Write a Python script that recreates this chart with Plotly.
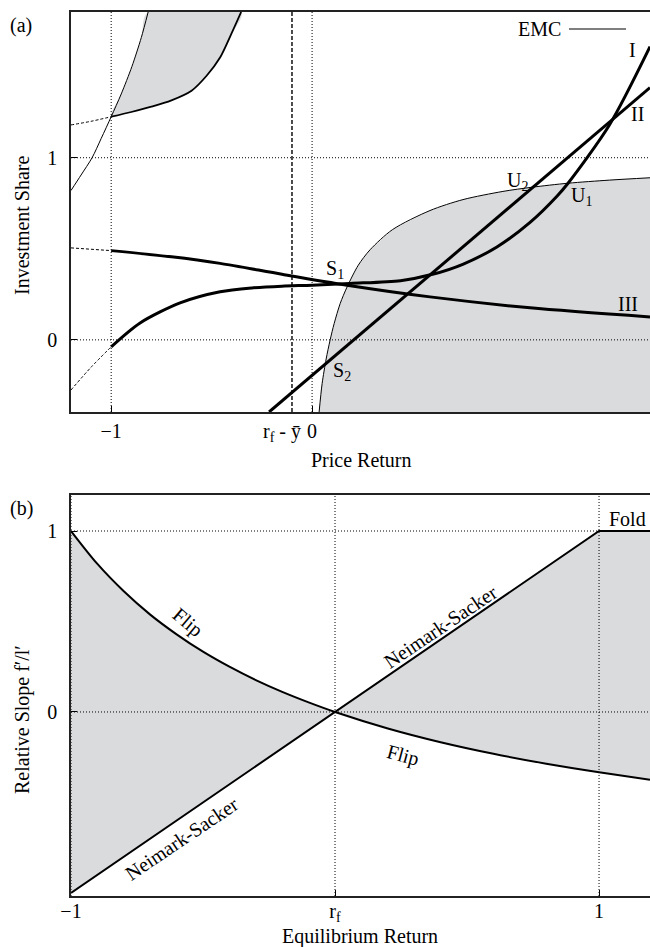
import plotly.graph_objects as go

# ---------------- Panel (a) data ----------------
xa_range = [-1.2, 1.682]
ya_range = [-0.396, 1.80]
xa_ticks = [-1, 0]
xa_ticktext = ["\u22121", "0"]
ya_ticks = [0, 1]
ya_ticktext = ["0", "1"]
rf_minus_ybar = -0.1

# thin boundary (left region)
emc_left_x = [-1.2, -1.15, -1.095, -1.05, -1.0, -0.95, -0.897, -0.85, -0.816]
emc_left_y = [0.82, 0.905, 1.0, 1.105, 1.225, 1.35, 1.50, 1.66, 1.80]
# upper boundary of left region (dashed part then solid)
upper_dash_x = [-1.2, -1.1, -1.0]
upper_dash_y = [1.18, 1.20, 1.225]
upper_x = [-1.0, -0.9, -0.8, -0.7, -0.6, -0.525, -0.458, -0.408, -0.353]
upper_y = [1.225, 1.251, 1.28, 1.315, 1.368, 1.45, 1.55, 1.665, 1.80]
# thin boundary (right region)
emc_right_x = [0.035, 0.05, 0.07, 0.09, 0.11, 0.14, 0.174, 0.23, 0.289, 0.40, 0.587, 0.751, 0.95, 1.095, 1.274, 1.48, 1.682]
emc_right_y = [-0.396, -0.24, -0.105, 0.0, 0.09, 0.2, 0.29, 0.41, 0.495, 0.605, 0.71, 0.77, 0.815, 0.838, 0.86, 0.877, 0.89]
# curve I
c1_dash_x = [-1.2, -1.1, -1.0]
c1_dash_y = [-0.275, -0.15, -0.038]
c1_x = [-1.0, -0.856, -0.657, -0.458, -0.3, -0.15, 0.0, 0.19, 0.44, 0.6, 0.75, 0.92, 1.085, 1.22, 1.274, 1.48, 1.682]
c1_y = [-0.038, 0.093, 0.203, 0.264, 0.285, 0.295, 0.30, 0.31, 0.325, 0.36, 0.415, 0.51, 0.645, 0.79, 0.86, 1.18, 1.61]
# line II
c2_x = [-0.214, 1.682]
c2_y = [-0.396, 1.385]
# curve III
c3_dash_x = [-1.2, -1.0]
c3_dash_y = [0.505, 0.49]
c3_x = [-1.0, -0.7, -0.458, -0.15, 0.174, 0.587, 1.085, 1.682]
c3_y = [0.49, 0.456, 0.42, 0.36, 0.30, 0.236, 0.176, 0.126]

# ---------------- Panel (b) data ----------------
xb_range = [-1.0, 1.193]
yb_range = [-1.017, 1.199]
xb_ticks = [-1, 0, 1]
xb_ticktext = ["\u22121", "r<sub>f</sub>", "1"]
yb_ticks = [0, 1]
yb_ticktext = ["0", "1"]

flip_x = [-1.0, -0.9, -0.8, -0.7, -0.6, -0.5, -0.4, -0.3, -0.2, -0.1, 0.0, 0.2, 0.4, 0.6, 0.8, 1.0, 1.193]
flip_y = [1.0, 0.818, 0.667, 0.538, 0.429, 0.333, 0.25, 0.176, 0.111, 0.053, 0.0, -0.091, -0.167, -0.231, -0.286, -0.333, -0.374]
ns_x = [-1.0, 0.0, 1.0]
ns_y = [-1.0, 0.0, 1.0]
fold_x = [1.0, 1.193]
fold_y = [1.0, 1.0]

GREY = "#dadbdd"
FONT = "Liberation Serif"
FS = 20

fig = go.Figure()

# ---- Panel (a) fills ----
i0 = emc_left_x.index(-1.0)
fill_left_x = emc_left_x[i0:] + upper_x[::-1]
fill_left_y = emc_left_y[i0:] + upper_y[::-1]
fig.add_trace(go.Scatter(x=fill_left_x, y=fill_left_y, fill="toself", fillcolor=GREY,
                         line=dict(width=0, shape="spline"), mode="lines", hoverinfo="skip", showlegend=False,
                         xaxis="x", yaxis="y"))
fill_right_x = emc_right_x + [xa_range[1], emc_right_x[0]]
fill_right_y = emc_right_y + [ya_range[0], ya_range[0]]
fig.add_trace(go.Scatter(x=fill_right_x, y=fill_right_y, fill="toself", fillcolor=GREY,
                         line=dict(width=0), mode="lines", hoverinfo="skip", showlegend=False,
                         xaxis="x", yaxis="y"))

def line(x, y, w, dash="solid", ax="x", ay="y"):
    fig.add_trace(go.Scatter(x=x, y=y, mode="lines",
                             line=dict(color="black", width=w, dash=dash, shape="spline", smoothing=0.8),
                             hoverinfo="skip", showlegend=False, xaxis=ax, yaxis=ay))

DASH = "3px,2px"
line(emc_left_x, emc_left_y, 1)
line(upper_dash_x, upper_dash_y, 1, DASH)
line(upper_x, upper_y, 1.8)
line(emc_right_x, emc_right_y, 1)
line(c1_dash_x, c1_dash_y, 1, DASH)
line(c1_x, c1_y, 3)
fig.add_trace(go.Scatter(x=c2_x, y=c2_y, mode="lines", line=dict(color="black", width=3),
                         hoverinfo="skip", showlegend=False, xaxis="x", yaxis="y"))
line(c3_dash_x, c3_dash_y, 1, DASH)
line(c3_x, c3_y, 3)

# ---- Panel (b) fills ----
k0 = flip_x.index(0.0)
fb_left_x = flip_x[:k0 + 1] + ns_x[:2][::-1]
fb_left_y = flip_y[:k0 + 1] + ns_y[:2][::-1]
fig.add_trace(go.Scatter(x=fb_left_x, y=fb_left_y, fill="toself", fillcolor=GREY,
                         line=dict(width=0), mode="lines", hoverinfo="skip", showlegend=False,
                         xaxis="x2", yaxis="y2"))
fb_right_x = ns_x[1:] + fold_x[1:] + flip_x[k0:][::-1]
fb_right_y = ns_y[1:] + fold_y[1:] + flip_y[k0:][::-1]
fig.add_trace(go.Scatter(x=fb_right_x, y=fb_right_y, fill="toself", fillcolor=GREY,
                         line=dict(width=0), mode="lines", hoverinfo="skip", showlegend=False,
                         xaxis="x2", yaxis="y2"))
line(flip_x, flip_y, 2, ax="x2", ay="y2")
fig.add_trace(go.Scatter(x=ns_x + fold_x[1:], y=ns_y + fold_y[1:], mode="lines",
                         line=dict(color="black", width=2), hoverinfo="skip", showlegend=False,
                         xaxis="x2", yaxis="y2"))

# ---- grid shapes (dotted) ----
shapes = []
dot = dict(color="black", width=1, dash="1px,2px")
for v in xa_ticks:
    shapes.append(dict(type="line", xref="x", yref="y domain", x0=v, x1=v, y0=0, y1=1, line=dot, layer="above"))
for v in ya_ticks:
    shapes.append(dict(type="line", xref="x domain", yref="y", x0=0, x1=1, y0=v, y1=v, line=dot, layer="above"))
shapes.append(dict(type="line", xref="x", yref="y domain", x0=rf_minus_ybar, x1=rf_minus_ybar, y0=0, y1=1,
                   line=dict(color="black", width=1.4, dash="4px,2px"), layer="above"))
for v in xb_ticks:
    shapes.append(dict(type="line", xref="x2", yref="y2 domain", x0=v, x1=v, y0=0, y1=1, line=dot, layer="above"))
for v in yb_ticks:
    shapes.append(dict(type="line", xref="x2 domain", yref="y2", x0=0, x1=1, y0=v, y1=v, line=dot, layer="above"))
# EMC legend line
shapes.append(dict(type="line", xref="paper", yref="paper", x0=569 / 650, x1=626 / 650,
                   y0=1 - 29 / 947, y1=1 - 29 / 947, line=dict(color="black", width=1.2)))

tf = dict(family=FONT, size=FS, color="black")
ann = []
def A(text, x, y, xr="x", yr="y", angle=0, size=FS, xanchor="center", yanchor="middle", **kw):
    ann.append(dict(text=text, x=x, y=y, xref=xr, yref=yr, showarrow=False, textangle=angle,
                    xanchor=xanchor, yanchor=yanchor,
                    font=dict(family=FONT, size=size, color="black"), **kw))

A("S<sub>1</sub>", 0.114, 0.385)
A("S<sub>2</sub>", 0.149, -0.176)
A("U<sub>2</sub>", 1.02, 0.868)
A("U<sub>1</sub>", 1.343, 0.786)
A("I", 1.597, 1.593)
A("II", 1.622, 1.242)
A("III", 1.572, 0.198)
A("EMC", 539 / 650, 1 - 29 / 947, "paper", "paper")
A("(a)", 21 / 650, 1 - 25 / 947, "paper", "paper")
A("(b)", 21 / 650, 1 - 508 / 947, "paper", "paper")
A("r<sub>f</sub> - \u0233", rf_minus_ybar, ya_range[0], "x", "y", yanchor="top", yshift=-6, xshift=-10)
A("Flip", -0.557, 0.497, "x2", "y2", angle=40)
A("Flip", 0.258, -0.238, "x2", "y2", angle=15)
A("Neimark-Sacker", 0.398, 0.47, "x2", "y2", angle=-34)
A("Neimark-Sacker", -0.583, -0.70, "x2", "y2", angle=-34)
A("Fold", 1.106, 1.066, "x2", "y2")
# axis titles
A("Price Return", 361 / 650, 1 - 460 / 947, "paper", "paper")
A("Investment Share", 22 / 650, 1 - 225 / 947, "paper", "paper", angle=-90)
A("Equilibrium Return", 360 / 650, 1 - 936 / 947, "paper", "paper")
A("Relative Slope f\u2032/l\u2032", 22 / 650, 1 - 720 / 947, "paper", "paper", angle=-90)

axis_common = dict(showline=True, linecolor="#222", linewidth=1.5, ticks="inside", ticklen=6,
                   tickcolor="black", showgrid=False, zeroline=False, tickfont=tf, automargin=False)

fig.update_layout(
    width=650, height=947, margin=dict(l=0, r=0, t=0, b=0),
    paper_bgcolor="white", plot_bgcolor="white", showlegend=False,
    xaxis=dict(domain=[71 / 650, 1], range=xa_range, tickvals=xa_ticks, ticktext=xa_ticktext,
               anchor="y", mirror=True, **axis_common),
    yaxis=dict(domain=[1 - 412 / 947, 1 - 12 / 947], range=ya_range, tickvals=ya_ticks, ticktext=ya_ticktext,
               anchor="x", ticklabelstandoff=8, **axis_common),
    xaxis2=dict(domain=[71 / 650, 1], range=xb_range, tickvals=xb_ticks, ticktext=xb_ticktext,
                anchor="y2", mirror=True, ticklabelstandoff=-4, **axis_common),
    yaxis2=dict(domain=[1 - 896 / 947, 1 - 495 / 947], range=yb_range, tickvals=yb_ticks, ticktext=yb_ticktext,
                anchor="x2", ticklabelstandoff=8, **axis_common),
    shapes=shapes, annotations=ann,
)

fig.write_html("out.html", config={"displayModeBar": False},
               post_script="document.body.style.margin='0px';")
